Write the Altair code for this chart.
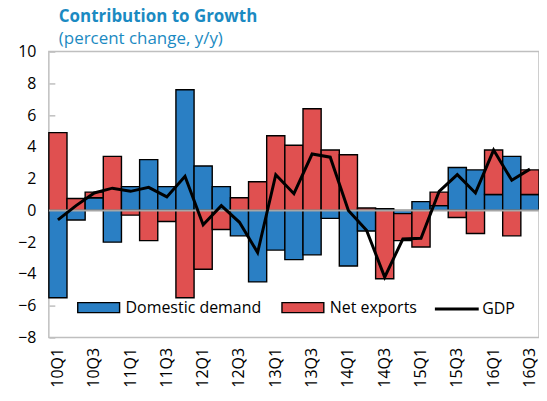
import altair as alt
import pandas as pd

quarters = ["10Q1","10Q2","10Q3","10Q4","11Q1","11Q2","11Q3","11Q4",
            "12Q1","12Q2","12Q3","12Q4","13Q1","13Q2","13Q3","13Q4",
            "14Q1","14Q2","14Q3","14Q4","15Q1","15Q2","15Q3","15Q4",
            "16Q1","16Q2","16Q3"]
domestic_demand = [-5.5, -0.6, 0.8, -2.0, 1.5, 3.2, 1.5, 7.6,
                   2.8, 1.5, -1.6, -4.5, -2.5, -3.1, -2.8, -0.5,
                   -3.5, -1.3, 0.1, -0.2, 0.55, 0.3, 2.7, 2.55,
                   1.0, 3.4, 1.0]
net_exports = [4.9, 0.75, 0.35, 3.4, -0.3, -1.9, -0.7, -5.5,
               -3.7, -1.2, 0.8, 1.8, 4.7, 4.1, 6.4, 3.8,
               3.5, 0.15, -4.3, -1.7, -2.3, 0.85, -0.45, -1.45,
               2.8, -1.6, 1.55]
gdp = [-0.6, 0.3, 1.1, 1.4, 1.2, 1.45, 0.85, 2.15,
       -0.9, 0.3, -0.75, -2.65, 2.25, 1.05, 3.55, 3.35,
       0.0, -1.25, -4.2, -1.8, -1.75, 1.2, 2.25, 1.1,
       3.8, 1.9, 2.6]
y_ticks = [-8, -6, -4, -2, 0, 2, 4, 6, 8, 10]

BLUE = "#2a7fc4"
RED = "#e05050"
TITLE_COLOR = "#1b8ac2"
FONT = "Open Sans"

rows = []
for i, q in enumerate(quarters):
    rows.append({"quarter": q, "component": "Domestic demand", "value": domestic_demand[i], "ord": 0})
    rows.append({"quarter": q, "component": "Net exports", "value": net_exports[i], "ord": 1})
bars_df = pd.DataFrame(rows)
line_df = pd.DataFrame({"quarter": quarters, "value": gdp, "measure": ["GDP"] * len(quarters)})

x_scale = alt.Scale(domain=quarters, paddingInner=0, paddingOuter=0)
x_axis = alt.Axis(values=quarters[::2], labelAngle=-90, labelFontSize=16,
                  labelFont=FONT, labelColor="black", labelPadding=10,
                  labelOverlap=False,
                  domain=False, ticks=False, tickSize=0, title=None, grid=False)
y_scale = alt.Scale(domain=[-8, 10], nice=False, zero=False)
y_axis = alt.Axis(values=y_ticks, labelFontSize=16, labelFont=FONT, labelColor="black",
                  labelOverlap=False, labelBound=False, labelFlush=False,
                  domain=False, tickSize=6, tickColor="#bfbfbf", tickWidth=1.5,
                  offset=-6, labelPadding=13, grid=False, title=None)

bars = alt.Chart(bars_df).mark_bar(stroke="black", strokeWidth=1.4).encode(
    x=alt.X("quarter:N", sort=quarters, scale=x_scale, axis=x_axis),
    y=alt.Y("value:Q", stack="zero", scale=y_scale, axis=y_axis),
    fill=alt.Fill("component:N",
                  scale=alt.Scale(domain=["Domestic demand", "Net exports"], range=[BLUE, RED]),
                  legend=alt.Legend(orient="none", legendX=28, legendY=235, direction="horizontal",
                                    title=None, symbolType="M-1,-0.24L1,-0.24L1,0.24L-1,0.24Z",
                                    symbolSize=1764, symbolStrokeColor="black", symbolStrokeWidth=1.4,
                                    symbolOpacity=1,
                                    labelFontSize=16, labelFont=FONT, labelColor="black",
                                    labelOffset=5, columnPadding=17)),
    order=alt.Order("ord:Q"),
)

zero = alt.Chart(pd.DataFrame({"y": [0]})).mark_rule(color="#a6a6a6", strokeWidth=2).encode(
    y=alt.Y("y:Q", scale=y_scale, axis=y_axis)
)

line = alt.Chart(line_df).mark_line(strokeWidth=3).encode(
    x=alt.X("quarter:N", sort=quarters, scale=x_scale, axis=x_axis),
    y=alt.Y("value:Q", scale=y_scale, axis=y_axis),
    stroke=alt.Stroke("measure:N", scale=alt.Scale(domain=["GDP"], range=["black"]),
                      legend=alt.Legend(orient="none", legendX=386, legendY=235, title=None,
                                        symbolType="stroke", symbolSize=1936, symbolStrokeWidth=3,
                                        labelFontSize=16, labelFont=FONT, labelColor="black",
                                        labelOffset=2)),
)

chart = alt.layer(bars, zero, line).resolve_scale(y="shared").properties(
    width=492, height=287,
    autosize=alt.AutoSizeParams(type="none"),
    padding={"left": 41, "top": 43, "right": 0, "bottom": 55},
    title=alt.TitleParams(text="Contribution to Growth", subtitle="(percent change, y/y)",
                          anchor="start", frame="group", dx=10, offset=-4,
                          font=FONT, fontSize=17, fontWeight="bold", color=TITLE_COLOR,
                          subtitleFont=FONT, subtitleFontSize=17, subtitleColor=TITLE_COLOR,
                          subtitlePadding=5),
).configure_view(stroke="#bfbfbf", strokeWidth=1.5)

chart.save("out.html", embed_options={"renderer": "svg", "actions": False})
